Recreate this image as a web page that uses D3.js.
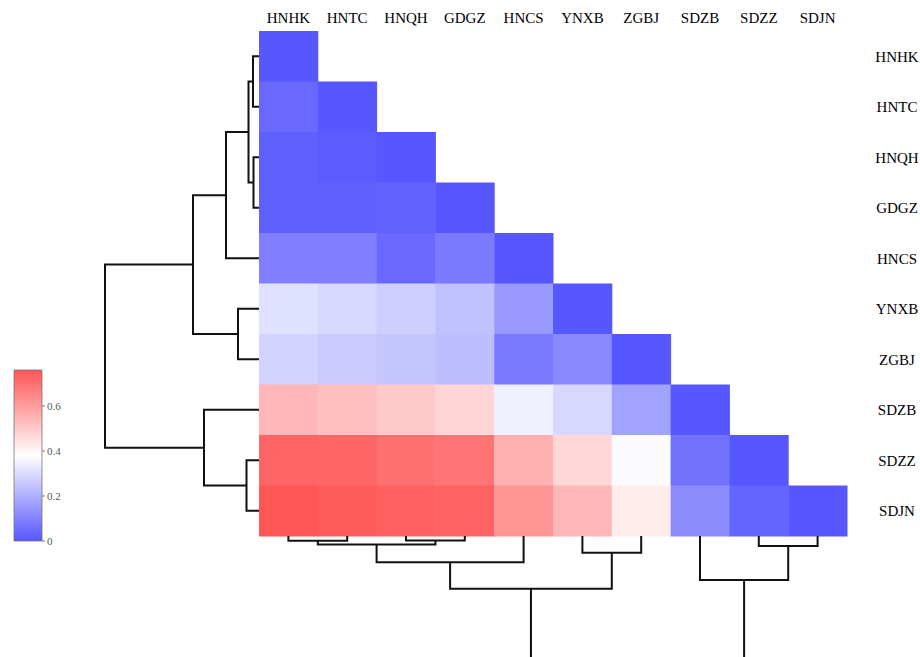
<!DOCTYPE html>
<html>
<head>
<meta charset="utf-8">
<script src="https://cdn.jsdelivr.net/npm/d3@7/dist/d3.min.js"></script>
<style>
  body { margin: 0; background: #fff; }
</style>
</head>
<body>
<div id="chart"></div>
<script>
// sample names, same order for rows and columns
var labels = ["HNHK", "HNTC", "HNQH", "GDGZ", "HNCS", "YNXB", "ZGBJ", "SDZB", "SDZZ", "SDJN"];

// lower triangle of the distance matrix (row i has i+1 values)
var rowHNHK = [0];
var rowHNTC = [0.04, 0];
var rowHNQH = [0.02, 0.01, 0];
var rowGDGZ = [0.02, 0.02, 0.025, 0];
var rowHNCS = [0.09, 0.09, 0.04, 0.08, 0];
var rowYNXB = [0.31, 0.29, 0.27, 0.24, 0.15, 0];
var rowZGBJ = [0.28, 0.26, 0.25, 0.23, 0.08, 0.11, 0];
var rowSDZB = [0.54, 0.52, 0.50, 0.475, 0.345, 0.29, 0.17, 0];
var rowSDZZ = [0.725, 0.72, 0.70, 0.69, 0.555, 0.47, 0.37, 0.06, 0];
var rowSDJN = [0.76, 0.745, 0.735, 0.73, 0.62, 0.54, 0.42, 0.12, 0.03, 0];
var matrix = [rowHNHK, rowHNTC, rowHNQH, rowGDGZ, rowHNCS, rowYNXB, rowZGBJ, rowSDZB, rowSDZZ, rowSDJN];

// hierarchical clustering merges: [childA, childB, height]; new node ids start at 10
var linkA = [0, 2, 10, 12, 5, 8, 13, 7, 16];
var linkB = [1, 3, 11, 4, 6, 9, 14, 15, 17];
var linkH = [6, 5.5, 10.5, 33, 21, 12.5, 66, 55, 154];

var legendTicks = [0, 0.2, 0.4, 0.6];
var colorMax = 0.76;

var width = 920, height = 657;
var serif = "'Liberation Serif', 'Times New Roman', Times, 'DejaVu Serif', serif";

var svg = d3.select("#chart").append("svg")
    .attr("width", width)
    .attr("height", height)
    .attr("font-family", serif);

var x = d3.scaleBand().domain(labels).range([259, 847]);
var y = d3.scaleBand().domain(labels).range([31, 536]);

var colour = d3.scaleLinear()
    .domain([0, colorMax / 2, colorMax])
    .range(["#5757ff", "#ffffff", "#ff5555"]);

// cells
var cells = [];
matrix.forEach(function (row, i) {
    row.forEach(function (v, j) {
        cells.push({ r: labels[i], c: labels[j], v: v });
    });
});

svg.append("g").selectAll("rect")
    .data(cells)
    .enter()
    .append("rect")
    .attr("x", function (d) { return x(d.c); })
    .attr("y", function (d) { return y(d.r); })
    .attr("width", x.bandwidth() + 0.5)
    .attr("height", y.bandwidth() + 0.5)
    .style("fill", function (d) { return colour(d.v); });

// labels
svg.append("g").selectAll("text")
    .data(labels)
    .enter()
    .append("text")
    .attr("x", function (d) { return x(d) + x.bandwidth() / 2; })
    .attr("y", 23)
    .attr("text-anchor", "middle")
    .style("font-family", serif)
    .style("font-size", "15px")
    .text(function (d) { return d; });

svg.append("g").selectAll("text")
    .data(labels)
    .enter()
    .append("text")
    .attr("x", 897)
    .attr("y", function (d) { return y(d) + y.bandwidth() / 2; })
    .attr("dy", "0.35em")
    .attr("text-anchor", "middle")
    .style("font-family", serif)
    .style("font-size", "15px")
    .text(function (d) { return d; });

// dendrograms
var hx = d3.scaleLinear().domain([0, 154]).range([259, 105]);   // left (rows)
var hy = d3.scaleLinear().domain([0, 154]).range([536, 659]);   // bottom (cols)

var posR = [], posC = [], hgt = [];
labels.forEach(function (d, i) {
    posR[i] = y(d) + y.bandwidth() / 2;
    posC[i] = x(d) + x.bandwidth() / 2;
    hgt[i] = 0;
});

var leftPaths = [], bottomPaths = [];
linkH.forEach(function (h, k) {
    var a = linkA[k], b = linkB[k], id = labels.length + k;
    posR[id] = (posR[a] + posR[b]) / 2;
    posC[id] = (posC[a] + posC[b]) / 2;
    hgt[id] = h;
    leftPaths.push("M" + hx(hgt[a]) + "," + posR[a] + "H" + hx(h) + "V" + posR[b] + "H" + hx(hgt[b]));
    bottomPaths.push("M" + posC[a] + "," + hy(hgt[a]) + "V" + hy(h) + "H" + posC[b] + "V" + hy(hgt[b]));
});

svg.append("g").selectAll("path")
    .data(leftPaths.concat(bottomPaths))
    .enter()
    .append("path")
    .attr("d", function (d) { return d; })
    .style("fill", "none")
    .style("stroke", "#111")
    .style("stroke-width", 2)
    .style("stroke-linejoin", "miter");

// colour legend
var ly = d3.scaleLinear().domain([0, colorMax]).range([541, 370]);
var defs = svg.append("defs");
var grad = defs.append("linearGradient")
    .attr("id", "lg")
    .attr("x1", 0).attr("y1", 1).attr("x2", 0).attr("y2", 0);
[0, 0.5, 1].forEach(function (t) {
    grad.append("stop")
        .attr("offset", t)
        .attr("stop-color", colour(t * colorMax));
});

svg.append("rect")
    .attr("x", 14)
    .attr("y", ly(colorMax))
    .attr("width", 28)
    .attr("height", ly(0) - ly(colorMax))
    .style("fill", "url(#lg)")
    .style("stroke", "#777")
    .style("stroke-width", 0.8);

var lg = svg.append("g").selectAll("g")
    .data(legendTicks)
    .enter()
    .append("g");

lg.append("line")
    .attr("x1", 42).attr("x2", 45)
    .attr("y1", function (d) { return ly(d); })
    .attr("y2", function (d) { return ly(d); })
    .style("stroke", "#777");

lg.append("text")
    .attr("x", 47)
    .attr("y", function (d) { return ly(d); })
    .attr("dy", "0.35em")
    .style("font-family", serif)
    .style("font-size", "11px")
    .style("fill", "#555")
    .text(function (d) { return d; });
</script>
</body>
</html>
